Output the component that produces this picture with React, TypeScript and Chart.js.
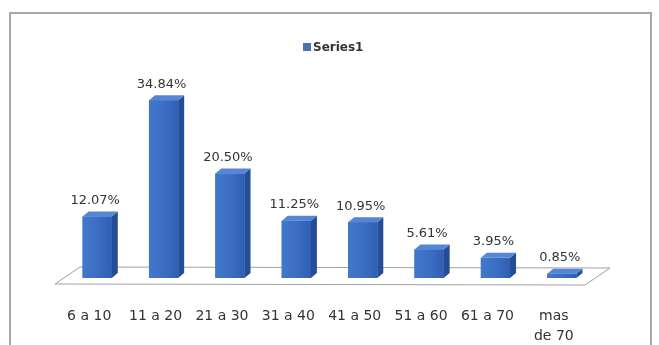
import React, { useEffect, useRef } from 'react';
import { Chart, registerables } from 'chart.js';

Chart.register(...registerables);

const seriesName = 'Series1';
const categories: (string | string[])[] = [
  '6 a 10',
  '11 a 20',
  '21 a 30',
  '31 a 40',
  '41 a 50',
  '51 a 60',
  '61 a 70',
  ['mas', 'de 70'],
];
const values = [12.07, 34.84, 20.5, 11.25, 10.95, 5.61, 3.95, 0.85];
const valueLabels = ['12.07%', '34.84%', '20.50%', '11.25%', '10.95%', '5.61%', '3.95%', '0.85%'];

const FRONT = '#3a6cc2';
const SIDE = '#244d96';
const TOP = '#5586d6';
const TEXT = '#333333';

const threeDPlugin = {
  id: 'threeD',
  beforeDatasetsDraw(chart: any) {
    const { ctx, chartArea } = chart;
    const base = chart.scales.y.getPixelForValue(0);
    const l = chartArea.left;
    const r = chartArea.right;
    ctx.save();
    ctx.beginPath();
    ctx.moveTo(l - 9, base + 6);
    ctx.lineTo(l + 16, base - 11);
    ctx.lineTo(r + 15, base - 10);
    ctx.lineTo(r - 10, base + 7);
    ctx.closePath();
    ctx.fillStyle = '#ffffff';
    ctx.fill();
    ctx.strokeStyle = '#a0a0a0';
    ctx.lineWidth = 1;
    ctx.stroke();
    ctx.restore();
  },
  afterDatasetsDraw(chart: any) {
    const { ctx } = chart;
    const meta = chart.getDatasetMeta(0);
    const dx = 6;
    const dy = 5;
    ctx.save();
    meta.data.forEach((bar: any, i: number) => {
      const w = bar.width;
      const x0 = bar.x - w / 2;
      const x1 = bar.x + w / 2;
      const top = bar.y;
      const base = bar.base;
      // front face with gradient
      const g = ctx.createLinearGradient(x0, 0, x1, 0);
      g.addColorStop(0, '#4278cc');
      g.addColorStop(0.5, '#3b6ec4');
      g.addColorStop(1, '#2f5fb2');
      ctx.fillStyle = g;
      ctx.fillRect(x0, top, w, base - top);
      // side face
      ctx.beginPath();
      ctx.moveTo(x1, top);
      ctx.lineTo(x1 + dx, top - dy);
      ctx.lineTo(x1 + dx, base - dy);
      ctx.lineTo(x1, base);
      ctx.closePath();
      ctx.fillStyle = SIDE;
      ctx.fill();
      // top face
      ctx.beginPath();
      ctx.moveTo(x0, top);
      ctx.lineTo(x0 + dx, top - dy);
      ctx.lineTo(x1 + dx, top - dy);
      ctx.lineTo(x1, top);
      ctx.closePath();
      ctx.fillStyle = TOP;
      ctx.fill();
      // value label
      ctx.fillStyle = TEXT;
      ctx.font = '13px "DejaVu Sans", sans-serif';
      ctx.textAlign = 'center';
      ctx.textBaseline = 'middle';
      ctx.fillText(valueLabels[i], bar.x - 2, top - 16);
    });
    // legend
    ctx.fillStyle = '#4f6fae';
    ctx.fillRect(303, 43, 8, 8);
    ctx.fillStyle = TEXT;
    ctx.font = 'bold 12px "DejaVu Sans", sans-serif';
    ctx.textAlign = 'left';
    ctx.textBaseline = 'middle';
    ctx.fillText(seriesName, 313, 48);
    ctx.restore();
  },
};

export default function App() {
  const canvasRef = useRef<HTMLCanvasElement | null>(null);

  useEffect(() => {
    document.body.style.margin = '0';
    const canvas = canvasRef.current;
    if (!canvas) return;
    const chart = new Chart(canvas, {
      type: 'bar',
      data: {
        labels: categories as any,
        datasets: [
          {
            label: seriesName,
            data: values,
            backgroundColor: FRONT,
            borderWidth: 0,
            categoryPercentage: 1,
            barPercentage: 0.44,
          },
        ],
      },
      options: {
        responsive: false,
        animation: false,
        layout: { padding: { left: 64, right: 64, top: 74, bottom: 0 } },
        plugins: {
          legend: { display: false },
          tooltip: { enabled: false },
        },
        scales: {
          x: {
            grid: { display: false },
            border: { display: false },
            ticks: {
              padding: 20,
              labelOffset: -8,
              autoSkip: false,
              maxRotation: 0,
              color: TEXT,
              font: { family: '"DejaVu Sans", sans-serif', size: 14, lineHeight: 1.45 },
            },
            afterFit: (s: any) => {
              s.height = 67;
            },
          },
          y: { display: false, min: 0, max: 40 },
        },
      },
      plugins: [threeDPlugin],
    });
    return () => chart.destroy();
  }, []);

  return (
    <div style={{ position: 'relative', width: 659, height: 345, overflow: 'hidden', background: '#fff' }}>
      <canvas
        ref={canvasRef}
        width={659}
        height={345}
        style={{ position: 'absolute', left: 0, top: 0, width: 659, height: 345, display: 'block' }}
      />
      <div
        style={{
          position: 'absolute',
          left: 9,
          top: 12,
          width: 643,
          height: 360,
          border: '2px solid #a8a8a8',
          boxSizing: 'border-box',
          pointerEvents: 'none',
        }}
      />
    </div>
  );
}
